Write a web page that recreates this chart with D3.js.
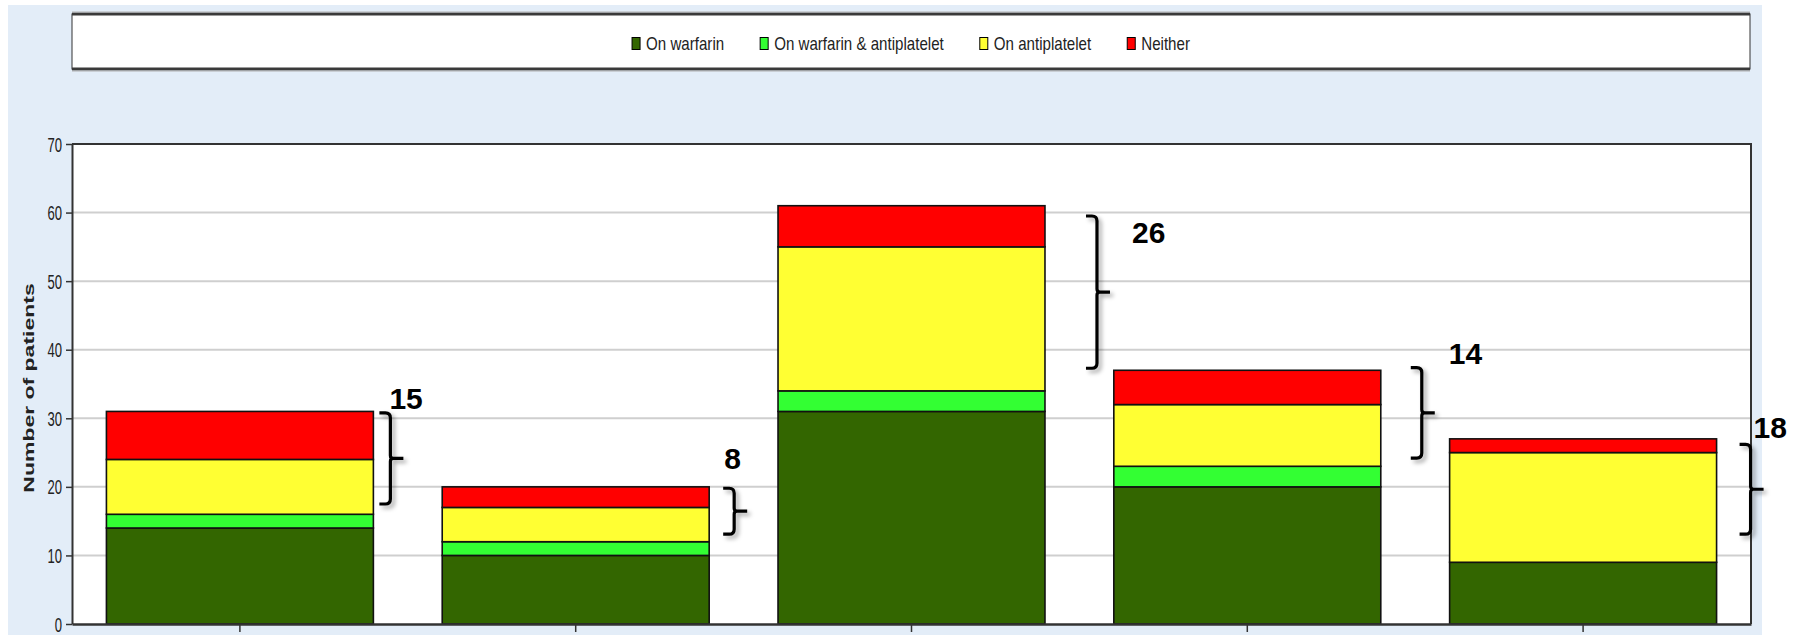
<!DOCTYPE html>
<html>
<head>
<meta charset="utf-8">
<script src="https://d3js.org/d3.v7.min.js"></script>
<style>
  body { margin: 0; background: #ffffff; }
  svg { display: block; }
</style>
</head>
<body>
<div id="vis"></div>
<script>
// data
var groups = ["A", "B", "C", "D", "E"];
var seriesNames = ["On warfarin", "On warfarin & antiplatelet", "On antiplatelet", "Neither"];
var onWarfarin = [14, 10, 31, 20, 9];
var onBoth = [2, 2, 3, 3, 0];
var onAntiplatelet = [8, 5, 21, 9, 16];
var neither = [7, 3, 6, 5, 2];
var yTicks = [0, 10, 20, 30, 40, 50, 60, 70];
var yTitle = "Number of patients";

// bracket annotations: label and value span it covers
var bracketLabels = ["15", "8", "26", "14", "18"];
var bracketHi = [30.8, 19.8, 59.5, 37.4, 26.2];
var bracketLo = [17.5, 13.1, 37.3, 24.2, 13.1];

var colors = ["#336600", "#33ff33", "#ffff33", "#ff0000"];

var W = 1801, H = 635;
var plot = { left: 72, right: 1751, top: 144, bottom: 624 };

var svg = d3.select("#vis").append("svg")
    .attr("width", W)
    .attr("height", H);

var defs = svg.append("defs");
var f = defs.append("filter").attr("id", "shadow")
    .attr("x", "-50%").attr("y", "-20%").attr("width", "200%").attr("height", "140%");
f.append("feDropShadow")
    .attr("dx", 3).attr("dy", 3).attr("stdDeviation", 2)
    .attr("flood-color", "#000").attr("flood-opacity", 0.35);

// light blue panel
svg.append("rect")
    .attr("x", 8).attr("y", 5)
    .attr("width", 1762 - 8).attr("height", H - 5)
    .attr("fill", "#e3edf8");

// legend box
var lg = svg.append("g");
lg.append("rect")
    .attr("x", 72).attr("y", 14)
    .attr("width", 1750 - 72).attr("height", 55)
    .attr("fill", "#fff")
    .attr("stroke", "#333").attr("stroke-width", 1);
[14, 69].forEach(function(yy) {
  lg.append("line")
    .attr("x1", 72).attr("x2", 1750)
    .attr("y1", yy).attr("y2", yy)
    .attr("stroke", "#3a3a3a").attr("stroke-width", 3);
  lg.append("line")
    .attr("x1", 72).attr("x2", 1750)
    .attr("y1", yy + (yy < 40 ? -2 : 2)).attr("y2", yy + (yy < 40 ? -2 : 2))
    .attr("stroke", "#b0b0b0").attr("stroke-width", 1);
});

var legScale = 0.84;
var items = lg.selectAll("g.item")
    .data(seriesNames)
    .enter().append("g").attr("class", "item");
items.append("rect")
    .attr("width", 8).attr("height", 12)
    .attr("y", 37.5)
    .attr("fill", function(d, i) { return colors[i]; })
    .attr("stroke", "#000").attr("stroke-width", 1);
items.append("text")
    .text(function(d) { return d; })
    .attr("font-family", "Liberation Sans, Arial, sans-serif")
    .attr("font-size", 18)
    .attr("fill", "#222")
    .attr("transform", "translate(14,50) scale(" + legScale + ",1)");

var widths = [];
items.each(function() {
  widths.push(14 + d3.select(this).select("text").node().getComputedTextLength() * legScale);
});
var gap = 36;
var total = d3.sum(widths) + gap * (widths.length - 1);
var cx = (72 + 1750) / 2 - total / 2;
items.attr("transform", function(d, i) {
  var x = cx + d3.sum(widths.slice(0, i)) + gap * i;
  return "translate(" + x + ",0)";
});

// scales
var x = d3.scaleBand()
    .domain(groups)
    .range([plot.left, plot.right])
    .paddingInner(0.205)
    .paddingOuter(0.1025);

var y = d3.scaleLinear()
    .domain([0, 70])
    .range([plot.bottom, plot.top]);

// plot background
svg.append("rect")
    .attr("x", plot.left).attr("y", plot.top)
    .attr("width", plot.right - plot.left).attr("height", plot.bottom - plot.top)
    .attr("fill", "#fff");

// gridlines
svg.append("g")
  .selectAll("line")
  .data(yTicks.filter(function(t) { return t > 0 && t < 70; }))
  .enter().append("line")
    .attr("x1", plot.left).attr("x2", plot.right)
    .attr("y1", function(d) { return y(d); })
    .attr("y2", function(d) { return y(d); })
    .attr("stroke", "#cfcfcf").attr("stroke-width", 2);

// stacked bars
var table = groups.map(function(g, i) {
  return { group: g, s0: onWarfarin[i], s1: onBoth[i], s2: onAntiplatelet[i], s3: neither[i] };
});
var stack = d3.stack().keys(["s0", "s1", "s2", "s3"]);
var layers = stack(table);

svg.append("g")
  .selectAll("g")
  .data(layers)
  .enter().append("g")
    .attr("fill", function(d, i) { return colors[i]; })
  .selectAll("rect")
  .data(function(d) { return d.filter(function(p) { return p[1] > p[0]; }); })
  .enter().append("rect")
    .attr("x", function(d) { return x(d.data.group); })
    .attr("width", x.bandwidth())
    .attr("y", function(d) { return y(d[1]); })
    .attr("height", function(d) { return y(d[0]) - y(d[1]); })
    .attr("stroke", "#111")
    .attr("stroke-width", 1.6);

// plot frame (top and right)
svg.append("path")
    .attr("d", "M" + plot.left + "," + plot.top + "H" + plot.right + "V" + plot.bottom)
    .attr("fill", "none")
    .attr("stroke", "#333").attr("stroke-width", 2);

// y axis
var tickScale = 0.67;
var yAxis = svg.append("g")
    .attr("transform", "translate(" + plot.left + ",0)")
    .call(d3.axisLeft(y).tickValues(yTicks).tickSize(6).tickSizeOuter(0));
yAxis.select(".domain").attr("stroke", "#333").attr("stroke-width", 2);
yAxis.selectAll(".tick line").attr("stroke", "#333").attr("stroke-width", 1.5);
yAxis.selectAll(".tick text")
    .attr("font-family", "Liberation Sans, Arial, sans-serif")
    .attr("font-size", 19.5)
    .attr("fill", "#222")
    .attr("x", -10 / tickScale)
    .attr("dy", "0.36em")
    .attr("transform", "scale(" + tickScale + ",1)");

// x axis (ticks only)
var xAxis = svg.append("g")
    .attr("transform", "translate(0," + plot.bottom + ")")
    .call(d3.axisBottom(x).tickSize(8).tickSizeOuter(0).tickFormat(""));
xAxis.select(".domain").attr("stroke", "#333").attr("stroke-width", 2.5);
xAxis.selectAll(".tick line").attr("stroke", "#333").attr("stroke-width", 1.5);

// y axis title
svg.append("text")
    .text(yTitle)
    .attr("font-family", "Liberation Sans, Arial, sans-serif")
    .attr("font-weight", "bold")
    .attr("font-size", 23)
    .attr("text-anchor", "middle")
    .attr("fill", "#222")
    .attr("transform", "translate(34,388) scale(0.65,1) rotate(-90)");

// brackets
var bracketGap = [17, 25, 52, 41, 34];      // from bar right edge
var labelOff = [[-1, -4], [-10, -19], [35, 27], [27, -4], [3, -6]];
var hook = 11, notch = 13;

var br = svg.append("g").selectAll("g")
    .data(groups)
    .enter().append("g");

br.append("path")
    .attr("fill", "none")
    .attr("stroke", "#000")
    .attr("stroke-width", 3.2)
    .attr("stroke-linejoin", "round")
    .attr("filter", "url(#shadow)")
    .attr("d", function(g, i) {
      var xv = x(g) + x.bandwidth() + bracketGap[i];
      var t = y(bracketHi[i]), b = y(bracketLo[i]), m = (t + b) / 2;
      var r = 5;
      return "M" + (xv - hook) + "," + t +
        "H" + (xv - r) + "Q" + xv + "," + t + " " + xv + "," + (t + r) +
        "V" + (m - 3) + "Q" + xv + "," + m + " " + (xv + 3) + "," + m +
        "H" + (xv + notch) +
        "M" + (xv + 3) + "," + m + "Q" + xv + "," + m + " " + xv + "," + (m + 3) +
        "V" + (b - r) + "Q" + xv + "," + b + " " + (xv - r) + "," + b +
        "H" + (xv - hook);
    });

br.append("text")
    .text(function(g, i) { return bracketLabels[i]; })
    .attr("font-family", "Liberation Sans, Arial, sans-serif")
    .attr("font-weight", "bold")
    .attr("font-size", 30)
    .attr("fill", "#000")
    .attr("x", function(g, i) { return x(g) + x.bandwidth() + bracketGap[i] + labelOff[i][0]; })
    .attr("y", function(g, i) { return y(bracketHi[i]) + labelOff[i][1]; });
</script>
</body>
</html>
